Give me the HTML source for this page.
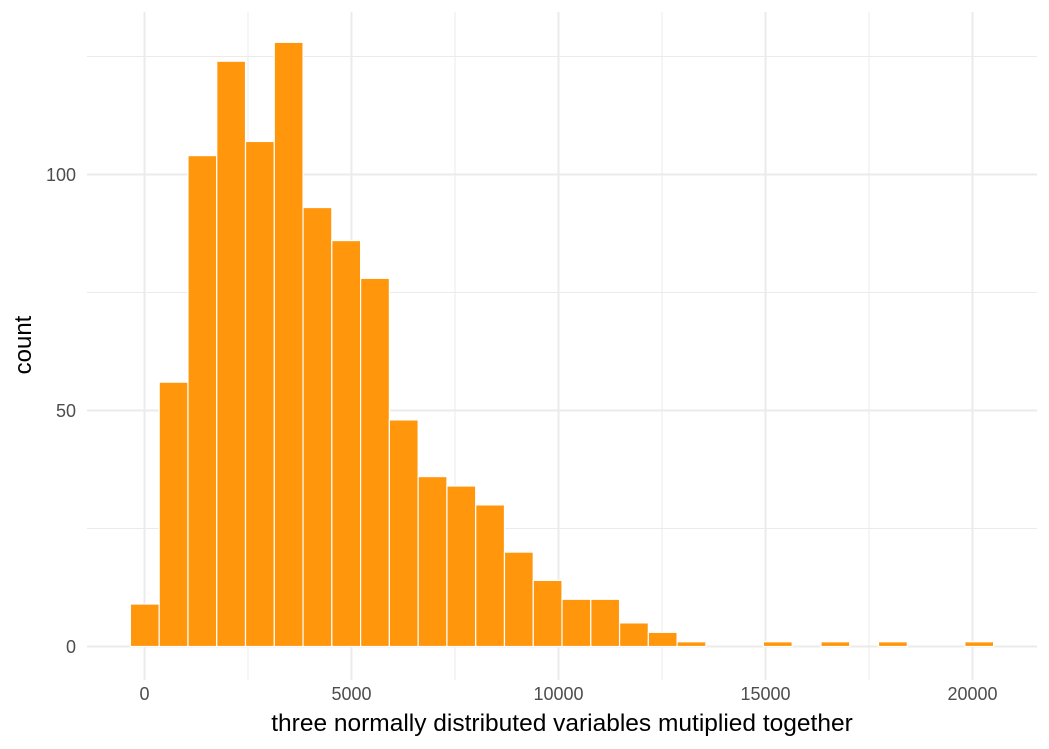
<!DOCTYPE html>
<html><head><meta charset="utf-8"><style>
body{margin:0;background:#fff;}
svg{display:block;font-family:"Liberation Sans",sans-serif;}
</style></head><body>
<svg id="chart" width="1049" height="749">
<g id="grid"></g>
<g id="bars"></g>
<g id="axes"></g>
<text x="562" y="731" text-anchor="middle" font-size="24.5" fill="#000">three normally distributed variables mutiplied together</text>
<text transform="translate(31,345) rotate(-90)" text-anchor="middle" font-size="24" fill="#000">count</text>
</svg>
<script>
const binStart = -340;
const binWidth = 695;
const counts = [9,56,104,124,107,128,93,86,78,48,36,34,30,20,14,10,10,5,3,1,0,0,1,0,1,0,1,0,0,1];
const xTicks = [0,5000,10000,15000,20000];
const xMinor = [2500,7500,12500,17500];
const yTicks = [0,50,100];
const yMinor = [25,75,125];
const X = v => 144.5 + v * 0.0414;
const Y = v => 646.5 - v * 4.72;
const NS = "http://www.w3.org/2000/svg";
function mk(tag, attrs, parent){const e=document.createElementNS(NS,tag);for(const k in attrs)e.setAttribute(k,attrs[k]);parent.appendChild(e);return e;}
const grid=document.getElementById('grid'), bars=document.getElementById('bars'), axes=document.getElementById('axes');
yMinor.forEach(v=>{const l=mk('line',{x1:87,x2:1037,y1:Y(v),y2:Y(v),stroke:'#ebebeb','stroke-width':1},grid);

});
xMinor.forEach(v=>{const l=mk('line',{x1:X(v),x2:X(v),y1:12,y2:680,stroke:'#ebebeb','stroke-width':1},grid);

});
yTicks.forEach(v=>{const l=mk('line',{x1:87,x2:1037,y1:Y(v),y2:Y(v),stroke:'#ebebeb','stroke-width':2},grid);


const t=mk('text',{x:76,y:Y(v)+6.5,'text-anchor':'end','font-size':18,fill:'#4d4d4d'},axes);t.textContent=v;

});
xTicks.forEach(v=>{const l=mk('line',{x1:X(v),x2:X(v),y1:12,y2:680,stroke:'#ebebeb','stroke-width':2},grid);


const t=mk('text',{x:X(v),y:700,'text-anchor':'middle','font-size':18,fill:'#4d4d4d'},axes);t.textContent=v;

});
counts.forEach((c,i)=>{const x0=X(binStart+i*binWidth), x1=X(binStart+(i+1)*binWidth);
const r=mk('rect',{x:x0,y:Y(c),width:x1-x0,height:Y(0)-Y(c),fill:'#ff960b',stroke:'#fff','stroke-width':1.2},bars);

});
</script>
</body></html>
